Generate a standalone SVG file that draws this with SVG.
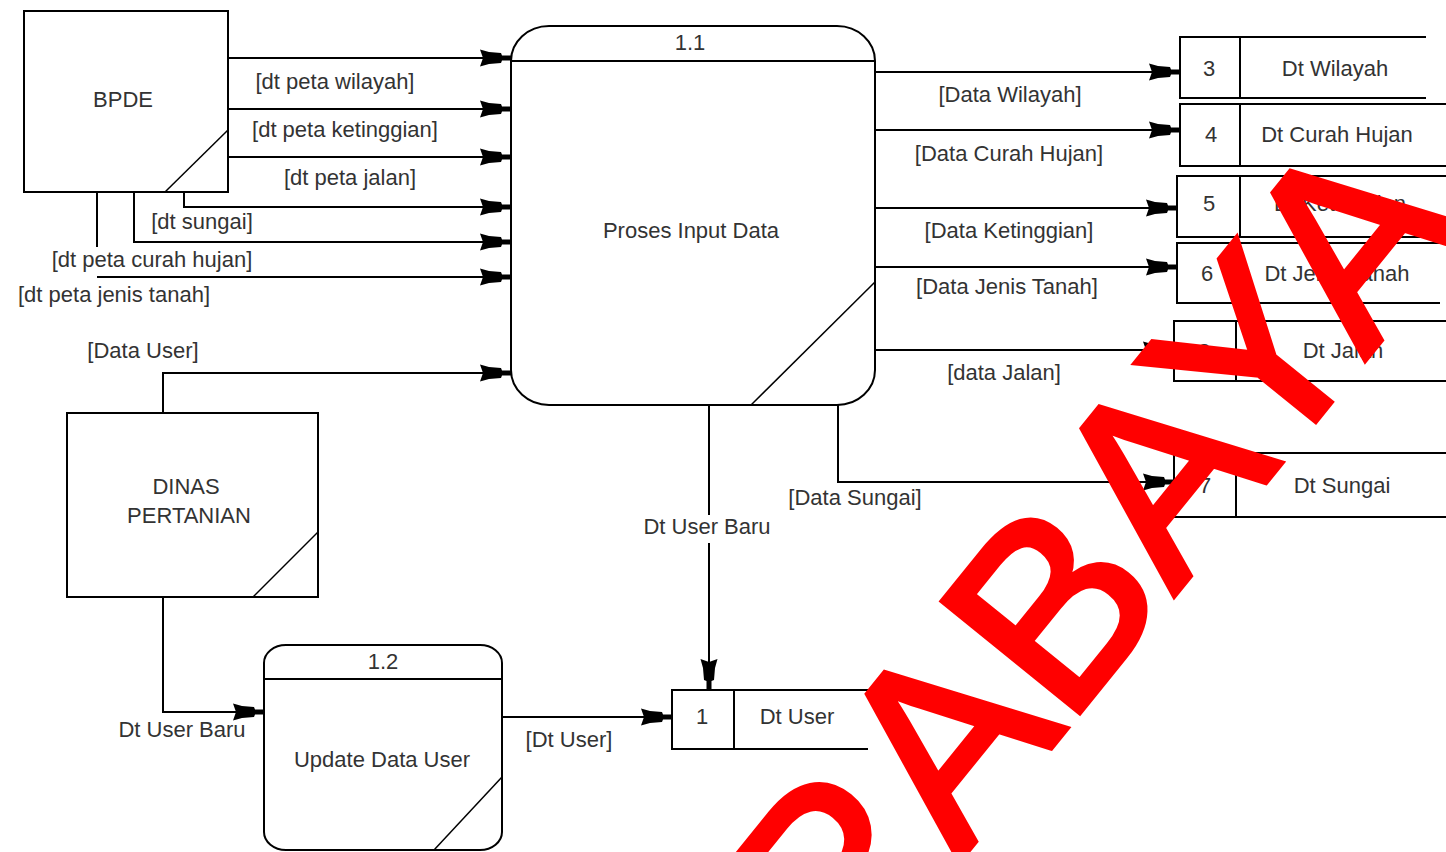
<svg xmlns="http://www.w3.org/2000/svg" width="1446" height="852" viewBox="0 0 1446 852">
  <defs>
    <style>
      .box { fill: #ffffff; stroke: #000000; stroke-width: 2; }
      .edge { fill: none; stroke: #000000; stroke-width: 2; }
      .thin { fill: none; stroke: #000000; stroke-width: 1.5; }
      .flow { fill: none; stroke: #000000; stroke-width: 2; marker-end: url(#head); }
      .plain { fill: none; stroke: #000000; stroke-width: 2; }
      text { font-family: "Liberation Sans", Arial, sans-serif; font-size: 22px; fill: #333333; text-anchor: middle; }
      .mark { font-family: "Liberation Sans", Arial, sans-serif; font-size: 256px; fill: #ff0000; stroke: #ff0000; stroke-width: 6; stroke-linejoin: miter; text-anchor: start; }
    </style>
    <!-- stubby flow arrowhead, tip at the path end -->
    <marker id="head" viewBox="-32 -10 33 20" refX="0" refY="0" markerWidth="33" markerHeight="20" markerUnits="userSpaceOnUse" orient="auto">
      <path d="M0,-2.5 L-9,-2.5 L-10,-5 L-22,-6 L-31,-8.5 L-28,0 L-31,8.5 L-22,6 L-10,5 L-9,2.5 L0,2.5 Z" fill="#000000"/>
    </marker>
  </defs>

  <rect width="1446" height="852" fill="#ffffff"/>

  <!-- external entities -->
  <g id="bpde">
    <rect class="box" x="24" y="11" width="204" height="181"/>
    <line class="thin" x1="165" y1="192" x2="228" y2="130"/>
    <text x="123" y="107">BPDE</text>
  </g>

  <g id="dinas-pertanian">
    <rect class="box" x="67" y="413" width="251" height="184"/>
    <line class="thin" x1="253" y1="597" x2="318" y2="532"/>
    <text x="186" y="494">DINAS</text>
    <text x="189" y="523">PERTANIAN</text>
  </g>

  <!-- processes -->
  <g id="proses-1-1">
    <rect class="box" x="511" y="26" width="364" height="379" rx="38" ry="35"/>
    <line class="edge" x1="511" y1="61" x2="875" y2="61"/>
    <line class="thin" x1="751" y1="405" x2="875" y2="282"/>
    <text x="690" y="50">1.1</text>
    <text x="691" y="238">Proses Input Data</text>
  </g>

  <g id="proses-1-2">
    <rect class="box" x="264" y="645" width="238" height="205" rx="22" ry="18"/>
    <line class="edge" x1="264" y1="679" x2="502" y2="679"/>
    <line class="thin" x1="434" y1="850" x2="502" y2="777"/>
    <text x="383" y="669">1.2</text>
    <text x="382" y="767">Update Data User</text>
  </g>

  <!-- data stores -->
  <g id="store-1">
    <path class="edge" d="M868,690 H672 V749 H868 M734,690 V749"/>
    <text x="702" y="724">1</text>
    <text x="797" y="724">Dt User</text>
  </g>
  <g id="store-3">
    <path class="edge" d="M1426,37 H1180 V98 H1426 M1240,37 V98"/>
    <text x="1209" y="76">3</text>
    <text x="1335" y="76">Dt Wilayah</text>
  </g>
  <g id="store-4">
    <path class="edge" d="M1446,104 H1180 V166 H1446 M1240,104 V166"/>
    <text x="1211" y="142">4</text>
    <text x="1337" y="142">Dt Curah Hujan</text>
  </g>
  <g id="store-5">
    <path class="edge" d="M1446,176 H1177 V237 H1440 M1240,176 V237"/>
    <text x="1209" y="211">5</text>
    <text x="1340" y="211">Dt Ketinggian</text>
  </g>
  <g id="store-6">
    <path class="edge" d="M1446,243 H1177 V303 H1440 M1238,243 V303"/>
    <text x="1207" y="281">6</text>
    <text x="1337" y="281">Dt Jenis Tanah</text>
  </g>
  <g id="store-2">
    <path class="edge" d="M1446,321 H1174 V381 H1446 M1236,321 V381"/>
    <text x="1204" y="359">2</text>
    <text x="1343" y="358">Dt Jalan</text>
  </g>
  <g id="store-7">
    <path class="edge" d="M1446,453 H1174 V517 H1446 M1236,453 V517"/>
    <text x="1205" y="493">7</text>
    <text x="1342" y="493">Dt Sungai</text>
  </g>

  <!-- data flows -->
  <g id="connectors">
    <path class="flow" d="M228,58 H511"/>
    <path class="flow" d="M228,109 H511"/>
    <path class="flow" d="M228,157 H511"/>
    <path class="flow" d="M184,192 V207 H511"/>
    <path class="flow" d="M134,192 V242 H511"/>
    <path class="plain" d="M97,192 V247"/>
    <path class="flow" d="M97,277 H511"/>
    <path class="flow" d="M163,413 V373 H511"/>
    <path class="flow" d="M163,597 V712 H264"/>
    <path class="flow" d="M502,717 H672"/>
    <path class="plain" d="M709,405 V515"/>
    <path class="flow" d="M709,543 V690"/>
    <path class="flow" d="M875,72 H1180"/>
    <path class="flow" d="M875,130 H1180"/>
    <path class="flow" d="M875,208 H1177"/>
    <path class="flow" d="M875,267 H1177"/>
    <path class="flow" d="M875,350 H1174"/>
    <path class="flow" d="M838,405 V482 H1174"/>

    <text x="335" y="89">[dt peta wilayah]</text>
    <text x="345" y="137">[dt peta ketinggian]</text>
    <text x="350" y="185">[dt peta jalan]</text>
    <text x="202" y="229">[dt sungai]</text>
    <text x="152" y="267">[dt peta curah hujan]</text>
    <text x="114" y="302">[dt peta jenis tanah]</text>
    <text x="143" y="358">[Data User]</text>
    <text x="182" y="737">Dt User Baru</text>
    <text x="569" y="747">[Dt User]</text>
    <text x="707" y="534">Dt User Baru</text>
    <text x="1010" y="102">[Data Wilayah]</text>
    <text x="1009" y="161">[Data Curah Hujan]</text>
    <text x="1009" y="238">[Data Ketinggian]</text>
    <text x="1007" y="294">[Data Jenis Tanah]</text>
    <text x="1004" y="380">[data Jalan]</text>
    <text x="855" y="505">[Data Sungai]</text>
  </g>

  <!-- stamp across the page -->
  <text class="mark" transform="translate(619,1281) rotate(-51)">SURABAYA</text>
</svg>
